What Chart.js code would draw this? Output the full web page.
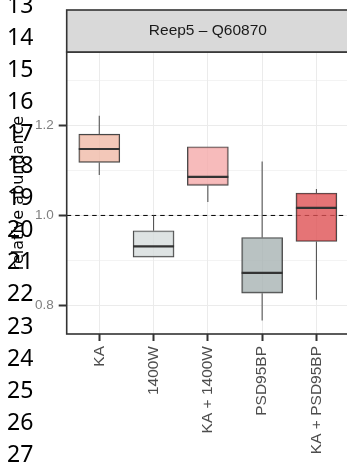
<!DOCTYPE html>
<html>
<head>
<meta charset="utf-8">
<script src="https://cdn.jsdelivr.net/npm/chart.js@4.4.1/dist/chart.umd.min.js"></script>
<style>
  html, body { margin: 0; padding: 0; background: #fff; overflow: hidden; }
  #wrap { position: relative; width: 352px; height: 462px; }
  #c { display: block; }
  #lines { position: absolute; left: 7px; top: -12.4px; font: 23px/32.1px "Noto Sans", "Open Sans", sans-serif; color: #000; white-space: pre; }
</style>
</head>
<body>
<div id="wrap">
  <canvas id="c" width="352" height="462" style="width:352px;height:462px"></canvas>
  <div id="lines"></div>
</div>
<script>
// box plot summary per treatment
const categories = ["KA", "1400W", "KA + 1400W", "PSD95BP", "KA + PSD95BP"];
const whiskerLow  = [1.090, 0.907, 1.030, 0.766, 0.812];
const q1          = [1.118, 0.907, 1.067, 0.827, 0.942];
const medians     = [1.148, 0.931, 1.086, 0.872, 1.017];
const q3          = [1.181, 0.966, 1.153, 0.951, 1.050];
const whiskerHigh = [1.222, 1.000, 1.153, 1.120, 1.059];
const boxColors = ["rgba(240,186,168,0.8)", "rgba(214,220,220,0.8)", "rgba(245,170,170,0.8)",
                   "rgba(168,179,179,0.8)", "rgba(222,81,84,0.8)"];

const yTicks      = [0.8, 0.9, 1.0, 1.1, 1.2, 1.3];
const yTickLabels = ["0.8", "", "1.0", "", "1.2", ""];
const refLine = 1.0;
const panelTitle = "Reep5 \u2013 Q60870";
const yTitle = "relative abundance";
const lineNumbers = ["13", "14", "15", "16", "17", "18", "19", "20", "21", "22", "23", "24", "25", "26", "27"];

document.getElementById("lines").textContent = lineNumbers.join("\n");

Chart.defaults.font.family = "'Liberation Sans', Arial, sans-serif";

const boxParts = {
  id: "boxParts",
  beforeDatasetsDraw(chart) {
    const { ctx, chartArea, scales } = chart;
    const y = scales.y.getPixelForValue(refLine);
    ctx.save();
    ctx.strokeStyle = "#000";
    ctx.lineWidth = 1;
    ctx.setLineDash([4.5, 4]);
    ctx.beginPath();
    ctx.moveTo(chartArea.left, y);
    ctx.lineTo(chartArea.right, y);
    ctx.stroke();
    ctx.restore();
  },
  afterDatasetsDraw(chart) {
    const { ctx, scales } = chart;
    const ys = scales.y;
    const bars = chart.getDatasetMeta(0).data;
    ctx.save();
    bars.forEach((bar, i) => {
      const x = bar.x;
      const half = bar.width / 2;
      ctx.strokeStyle = "#555";
      ctx.lineWidth = 1.1;
      ctx.beginPath();
      ctx.moveTo(x, ys.getPixelForValue(q3[i]));
      ctx.lineTo(x, ys.getPixelForValue(whiskerHigh[i]));
      ctx.moveTo(x, ys.getPixelForValue(q1[i]));
      ctx.lineTo(x, ys.getPixelForValue(whiskerLow[i]));
      ctx.stroke();
      ctx.strokeStyle = "#333";
      ctx.lineWidth = 2.2;
      ctx.beginPath();
      const ym = ys.getPixelForValue(medians[i]);
      ctx.moveTo(x - half, ym);
      ctx.lineTo(x + half, ym);
      ctx.stroke();
    });
    ctx.restore();
  },
  afterDraw(chart) {
    const { ctx, chartArea } = chart;
    const w = chartArea.right - chartArea.left;
    ctx.save();
    ctx.strokeStyle = "#333";
    ctx.lineWidth = 1.6;
    ctx.strokeRect(chartArea.left, chartArea.top, w, chartArea.bottom - chartArea.top);
    // facet strip
    const top = chartArea.top - 42;
    ctx.fillStyle = "#D9D9D9";
    ctx.fillRect(chartArea.left, top, w, 42);
    ctx.strokeRect(chartArea.left, top, w, 42);
    ctx.fillStyle = "#1A1A1A";
    ctx.font = "15.5px 'Liberation Sans', Arial, sans-serif";
    ctx.textAlign = "center";
    ctx.textBaseline = "middle";
    ctx.fillText(panelTitle, chartArea.left + w / 2, top + 21);
    ctx.restore();
  }
};

new Chart(document.getElementById("c"), {
  type: "bar",
  data: {
    datasets: [{
      data: categories.map((c, i) => ({ x: i, y: [q1[i], q3[i]] })),
      backgroundColor: boxColors,
      borderColor: "rgba(51,51,51,0.9)",
      borderWidth: 1.2,
      borderSkipped: false,
      barThickness: 41
    }]
  },
  options: {
    responsive: false,
    animation: false,
    layout: { padding: { top: 52, left: 0, right: 3, bottom: 0 } },
    plugins: { legend: { display: false }, tooltip: { enabled: false } },
    scales: {
      x: {
        type: "linear",
        offset: false,
        min: -0.6,
        max: 4.6,
        afterBuildTicks: s => { s.ticks = categories.map((c, i) => ({ value: i })); },
        afterFit: s => { s.height = 128; },
        ticks: {
          autoSkip: false,
          minRotation: 90,
          maxRotation: 90,
          padding: 5,
          color: "#4D4D4D",
          font: { size: 15.5 },
          callback: v => categories[v]
        },
        grid: { offset: false, color: "#EBEBEB", lineWidth: 1, tickColor: "#333", tickLength: 7, tickWidth: 2 },
        border: { display: false }
      },
      y: {
        min: 0.736,
        max: 1.364,
        afterBuildTicks: s => { s.ticks = yTicks.map(v => ({ value: v })); },
        afterFit: s => { s.width = 66.7; },
        ticks: {
          padding: 5,
          color: "#808080",
          font: { size: 13.5 },
          callback: v => yTickLabels[yTicks.indexOf(v)]
        },
        grid: {
          color: "#EBEBEB",
          lineWidth: c => (c.tick && yTickLabels[yTicks.indexOf(c.tick.value)] ? 1 : 0.6),
          tickColor: c => (c.tick && yTickLabels[yTicks.indexOf(c.tick.value)] ? "#333" : "rgba(0,0,0,0)"),
          tickLength: 8,
          tickWidth: 2
        },
        border: { display: false },
        title: {
          display: true,
          text: yTitle,
          color: "#000",
          font: { family: "'DejaVu Sans', sans-serif", size: 16 },
          padding: { top: 9, bottom: 0 }
        }
      }
    }
  },
  plugins: [boxParts]
});
</script>
</body>
</html>
